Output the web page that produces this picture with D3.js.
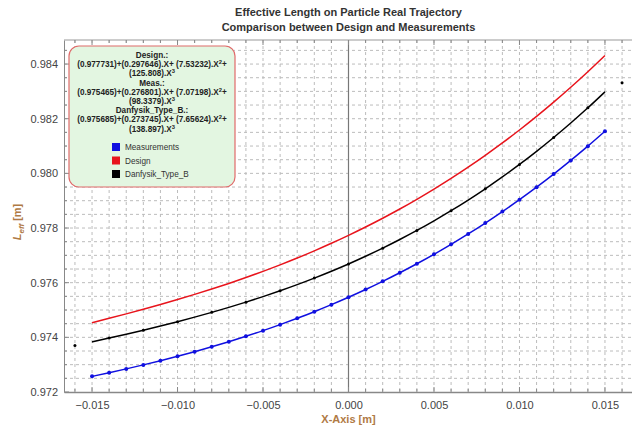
<!DOCTYPE html>
<html>
<head>
<meta charset="utf-8">
<script src="https://cdn.jsdelivr.net/npm/d3@7"></script>
<style>
  body { margin: 0; background: white; }
  text { font-family: "Liberation Sans", Arial, sans-serif; }
</style>
</head>
<body>
<svg id="svg"></svg>
<script>
const width = 632;
const height = 431;

// x positions (m), one sample per mm
const xValues = [-0.015, -0.014, -0.013, -0.012, -0.011, -0.010, -0.009, -0.008, -0.007, -0.006,
    -0.005, -0.004, -0.003, -0.002, -0.001, 0.000, 0.001, 0.002, 0.003, 0.004, 0.005,
    0.006, 0.007, 0.008, 0.009, 0.010, 0.011, 0.012, 0.013, 0.014, 0.015];

const designValues = [0.974536, 0.974695, 0.974858, 0.975027, 0.975201, 0.975382, 0.975571, 0.975767,
    0.975973, 0.976189, 0.976415, 0.976653, 0.976902, 0.977165, 0.977441, 0.977731, 0.978036,
    0.978357, 0.978695, 0.979050, 0.979423, 0.979815, 0.980227, 0.980659, 0.981112, 0.981587,
    0.982084, 0.982605, 0.983150, 0.983720, 0.984315];

const measValues = [0.972572, 0.972706, 0.972846, 0.972992, 0.973145, 0.973306, 0.973475, 0.973653,
    0.973840, 0.974038, 0.974245, 0.974465, 0.974696, 0.974939, 0.975195, 0.975465, 0.975749,
    0.976048, 0.976362, 0.976692, 0.977038, 0.977402, 0.977783, 0.978182, 0.978601, 0.979039,
    0.979496, 0.979975, 0.980475, 0.980996, 0.981540];

const danfysikValues = [0.973833, 0.973972, 0.974115, 0.974263, 0.974415, 0.974574, 0.974740, 0.974914,
    0.975096, 0.975288, 0.975490, 0.975704, 0.975929, 0.976167, 0.976419, 0.976685, 0.976967,
    0.977264, 0.977579, 0.977911, 0.978263, 0.978633, 0.979024, 0.979436, 0.979870, 0.980327,
    0.980807, 0.981312, 0.981843, 0.982399, 0.982983];

// the two lone Danfysik points at the ends
const danfysikExtraX = [-0.016, 0.016];
const danfysikExtraY = [0.97370, 0.98332];

const xTicks = [-0.015, -0.010, -0.005, 0.000, 0.005, 0.010, 0.015];
const yTicks = [0.972, 0.974, 0.976, 0.978, 0.980, 0.982, 0.984];

const legendLines = [
    ["Design.:"],
    ["(0.977731)+(0.297646).X+ (7.53232).X", "2", "+"],
    ["(125.808).X", "3"],
    ["Meas.:"],
    ["(0.975465)+(0.276801).X+ (7.07198).X", "2", "+"],
    ["(98.3379).X", "3"],
    ["Danfysik_Type_B.:"],
    ["(0.975685)+(0.273745).X+ (7.65624).X", "2", "+"],
    ["(138.897).X", "3"]
];
const seriesNames = ["Measurements", "Design", "Danfysik_Type_B"];
const seriesColors = ["#1010e0", "#e8141c", "#000000"];

let svg = d3.select("#svg").attr("width", width).attr("height", height);

const plotLeft = 64, plotRight = 633, plotTop = 40, plotBottom = 392;

let xScale = d3.scaleLinear().domain([-0.01664, 0.01664]).range([plotLeft, plotRight]);
let yScale = d3.scaleLinear().domain([0.972, 0.98488]).range([plotBottom, plotTop]);

// dashed grid
const gridX = d3.range(-16, 17).map(k => k / 1000);
const gridY = d3.range(0, 26).map(k => 0.972 + k * 0.0005);

svg.append("g").selectAll("line")
    .data(gridX.filter(d => Math.abs(d) > 1e-9))
    .enter().append("line")
    .attr("x1", d => xScale(d)).attr("x2", d => xScale(d))
    .attr("y1", plotTop).attr("y2", plotBottom)
    .attr("stroke", "#bcbcbc")
    .attr("stroke-dasharray", "3,3");

svg.append("g").selectAll("line")
    .data(gridY.slice(1))
    .enter().append("line")
    .attr("x1", plotLeft).attr("x2", plotRight)
    .attr("y1", d => yScale(d)).attr("y2", d => yScale(d))
    .attr("stroke", "#bcbcbc")
    .attr("stroke-dasharray", "3,3");

// zero line
svg.append("line")
    .attr("x1", xScale(0)).attr("x2", xScale(0))
    .attr("y1", plotTop).attr("y2", plotBottom)
    .attr("stroke", "#777")
    .attr("stroke-width", 1.2);

// frame axes
svg.append("g")
    .attr("transform", "translate(0," + plotBottom + ")")
    .call(d3.axisBottom(xScale).tickValues(xTicks).tickSize(0).tickPadding(9)
        .tickFormat(d => d3.format(".3f")(d).replace("-", "\u2212")))
    .call(g => g.select(".domain").attr("stroke", "#888").attr("stroke-width", 1.5))
    .selectAll("text")
    .style("font-size", "11px")
    .style("fill", "#444");

svg.append("g")
    .attr("transform", "translate(" + plotLeft + ",0)")
    .call(d3.axisLeft(yScale).tickValues(yTicks).tickSize(0).tickPadding(6)
        .tickFormat(d3.format(".3f")))
    .call(g => g.select(".domain").attr("stroke", "#888"))
    .selectAll("text")
    .style("font-size", "11px")
    .style("fill", "#444");

svg.append("line")
    .attr("x1", plotLeft).attr("x2", plotRight)
    .attr("y1", plotTop).attr("y2", plotTop)
    .attr("stroke", "#999");

// inward ticks, major and minor
const tickG = svg.append("g").attr("stroke", "#888");
gridX.forEach(d => {
    const major = xTicks.some(t => Math.abs(t - d) < 1e-9);
    const len = major ? 5 : 3;
    tickG.append("line").attr("x1", xScale(d)).attr("x2", xScale(d))
        .attr("y1", plotBottom).attr("y2", plotBottom - len);
    tickG.append("line").attr("x1", xScale(d)).attr("x2", xScale(d))
        .attr("y1", plotTop).attr("y2", plotTop + len);
});
gridY.forEach(d => {
    const major = yTicks.some(t => Math.abs(t - d) < 1e-9);
    tickG.append("line").attr("x1", plotLeft).attr("x2", plotLeft + (major ? 5 : 3))
        .attr("y1", yScale(d)).attr("y2", yScale(d));
});

// curves
const line = d3.line()
    .x(d => xScale(d[0]))
    .y(d => yScale(d[1]))
    .curve(d3.curveMonotoneX);

const seriesData = [measValues, designValues, danfysikValues];
seriesData.forEach((vals, i) => {
    svg.append("path")
        .datum(xValues.map((x, j) => [x, vals[j]]))
        .attr("d", line)
        .attr("fill", "none")
        .attr("stroke", seriesColors[i])
        .attr("stroke-width", 1.5);
});

// measurement points
svg.append("g").selectAll("circle")
    .data(xValues.map((x, j) => [x, measValues[j]]))
    .enter().append("circle")
    .attr("cx", d => xScale(d[0]))
    .attr("cy", d => yScale(d[1]))
    .attr("r", 2)
    .attr("fill", seriesColors[0]);

// danfysik points every 2 mm
svg.append("g").selectAll("circle")
    .data(xValues.map((x, j) => [x, danfysikValues[j]]).filter((d, j) => j % 2 === 1)
        .concat(danfysikExtraX.map((x, j) => [x, danfysikExtraY[j]])))
    .enter().append("circle")
    .attr("cx", d => xScale(d[0]))
    .attr("cy", d => yScale(d[1]))
    .attr("r", 1.5)
    .attr("fill", "#000");

// titles
svg.append("text")
    .attr("x", xScale(0)).attr("y", 16)
    .attr("text-anchor", "middle")
    .style("font-size", "11px").style("font-weight", "bold").style("fill", "#333")
    .text("Effective Length on Particle Real Trajectory");
svg.append("text")
    .attr("x", xScale(0)).attr("y", 31)
    .attr("text-anchor", "middle")
    .style("font-size", "11px").style("font-weight", "bold").style("fill", "#333")
    .text("Comparison between Design and Measurements");

svg.append("text")
    .attr("x", xScale(0)).attr("y", 423)
    .attr("text-anchor", "middle")
    .style("font-size", "11px").style("font-weight", "bold").style("fill", "#b07a45")
    .text("X-Axis [m]");

let yLabel = svg.append("text")
    .attr("transform", "translate(21,222) rotate(-90)")
    .attr("text-anchor", "middle")
    .style("font-size", "11px").style("font-weight", "bold").style("fill", "#b07a45");
yLabel.append("tspan").style("font-style", "italic").text("L");
yLabel.append("tspan").attr("dy", 3).style("font-size", "8px").style("font-style", "italic").text("eff");
yLabel.append("tspan").attr("dy", -3).text(" [m]");

// legend box
svg.append("rect")
    .attr("x", 69).attr("y", 46)
    .attr("width", 166).attr("height", 141)
    .attr("rx", 10)
    .attr("fill", "#e3f6e1")
    .attr("stroke", "#e06a6a")
    .attr("stroke-width", 1.2);

legendLines.forEach((parts, i) => {
    let t = svg.append("text")
        .attr("x", 152).attr("y", 58 + i * 9.2)
        .attr("text-anchor", "middle")
        .style("font-size", "8.2px").style("font-weight", "bold").style("fill", "#222");
    t.append("tspan").text(parts[0]);
    if (parts.length > 1) {
        t.append("tspan").attr("dy", -3).style("font-size", "5.8px").text(parts[1]);
    }
    if (parts.length > 2) {
        t.append("tspan").attr("dy", 3).text(parts[2]);
    }
});

seriesNames.forEach((name, i) => {
    const y = 147 + i * 13.5;
    svg.append("rect")
        .attr("x", 112).attr("y", y - 4)
        .attr("width", 8).attr("height", 8)
        .attr("fill", seriesColors[i]);
    svg.append("text")
        .attr("x", 125).attr("y", y + 3)
        .style("font-size", "8.2px").style("fill", "#333")
        .text(name);
});
</script>
</body>
</html>
